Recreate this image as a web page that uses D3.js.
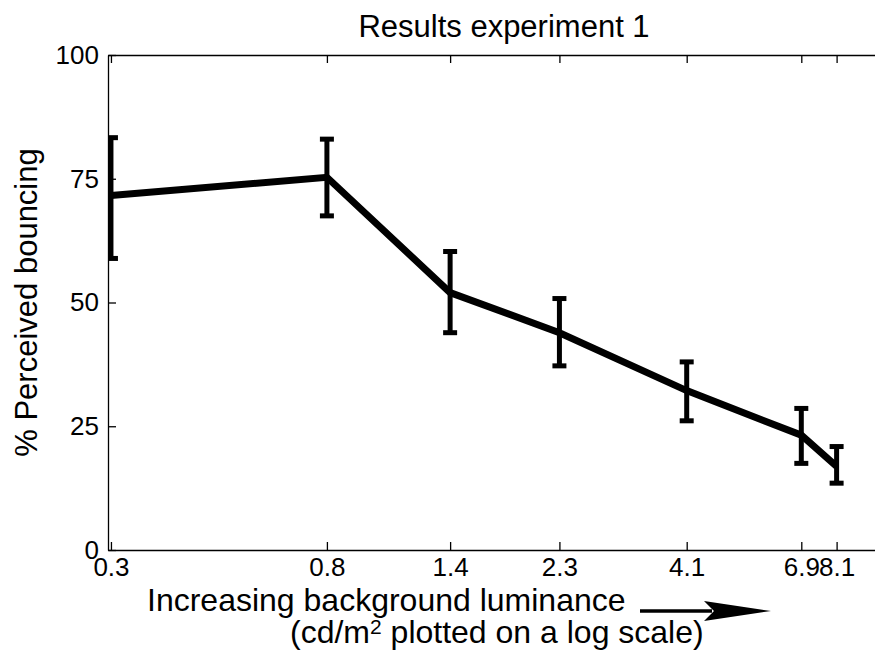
<!DOCTYPE html>
<html>
<head>
    <title>Results experiment 1</title>
    <style>
        html, body {
            margin: 0;
            padding: 0;
            background: #fff;
        }
        svg text {
            font-family: "Liberation Sans", Arial, Helvetica, sans-serif;
            fill: #000;
        }
        .axis path,
        .axis line {
            fill: none;
            stroke: #000;
            stroke-width: 1.3;
        }
    </style>
    <script src="https://d3js.org/d3.v7.min.js"></script>
</head>
<body>
    <svg id="chart"></svg>
</body>
<script>
// data
const luminance = [0.3, 0.8, 1.4, 2.3, 4.1, 6.9, 8.1];
const bouncing = [71.6, 75.3, 52.0, 43.9, 32.2, 23.2, 16.9];
const errUpper = [83.3, 83.0, 60.3, 50.8, 38.0, 28.6, 20.9];
const errLower = [58.9, 67.5, 43.9, 37.2, 26.1, 17.5, 13.5];
const xTickLabels = ["0.3", "0.8", "1.4", "2.3", "4.1", "6.9", "8.1"];
const yTicks = [0, 25, 50, 75, 100];

const width = 875;
const height = 654;
const margin = { top: 55, right: -8, bottom: 104, left: 108 };
const plotW = width - margin.left - margin.right;
const plotH = height - margin.top - margin.bottom;
const tickFont = "26px";

const svgRoot = d3.select("#chart")
    .attr("width", width)
    .attr("height", height);

const svg = svgRoot.append("g")
    .attr("transform", "translate(" + margin.left + "," + margin.top + ")");

const x = d3.scaleLog()
    .domain([0.296, 10])
    .range([0, plotW]);
const y = d3.scaleLinear()
    .domain([0, 100])
    .range([plotH, 0]);

svg.append("clipPath")
    .attr("id", "plot-clip")
    .append("rect")
    .attr("width", plotW)
    .attr("height", plotH);

// axes, ticks pointing inward like matlab
svg.append("g")
    .attr("class", "x axis")
    .attr("transform", "translate(0," + plotH + ")")
    .call(d3.axisBottom(x)
        .tickValues(luminance)
        .tickFormat((d, i) => xTickLabels[i])
        .tickSizeInner(-8)
        .tickSizeOuter(0)
        .tickPadding(8))
    .selectAll("text")
    .style("font-size", tickFont);
svg.append("g")
    .attr("class", "axis")
    .call(d3.axisTop(x)
        .tickValues(luminance)
        .tickFormat("")
        .tickSizeInner(-8)
        .tickSizeOuter(0));
svg.append("g")
    .attr("class", "y axis")
    .call(d3.axisLeft(y)
        .tickValues(yTicks)
        .tickSizeInner(-8)
        .tickSizeOuter(0)
        .tickPadding(9))
    .selectAll("text")
    .style("font-size", tickFont);
svg.append("g")
    .attr("class", "axis")
    .attr("transform", "translate(" + plotW + ",0)")
    .call(d3.axisRight(y)
        .tickValues(yTicks)
        .tickFormat("")
        .tickSizeInner(-8)
        .tickSizeOuter(0));

const points = luminance.map((d, i) => ({
    lum: d,
    val: bouncing[i],
    hi: errUpper[i],
    lo: errLower[i]
}));

const plot = svg.append("g")
    .attr("clip-path", "url(#plot-clip)");

const line = d3.line()
    .x(d => x(d.lum))
    .y(d => y(d.val));

plot.append("path")
    .datum(points)
    .attr("d", line)
    .attr("fill", "none")
    .attr("stroke", "#000")
    .attr("stroke-width", 7)
    .attr("stroke-linejoin", "miter");

// error bars
const capHalf = 7;
const bars = plot.selectAll(".errbar")
    .data(points)
    .enter().append("g")
    .attr("class", "errbar")
    .attr("stroke", "#000")
    .attr("stroke-width", 5);
bars.append("line")
    .attr("x1", d => x(d.lum))
    .attr("x2", d => x(d.lum))
    .attr("y1", d => y(d.hi))
    .attr("y2", d => y(d.lo));
bars.append("line")
    .attr("x1", d => x(d.lum) - capHalf)
    .attr("x2", d => x(d.lum) + capHalf)
    .attr("y1", d => y(d.hi))
    .attr("y2", d => y(d.hi));
bars.append("line")
    .attr("x1", d => x(d.lum) - capHalf)
    .attr("x2", d => x(d.lum) + capHalf)
    .attr("y1", d => y(d.lo))
    .attr("y2", d => y(d.lo));

// title and labels
svgRoot.append("text")
    .attr("x", 504)
    .attr("y", 37)
    .attr("text-anchor", "middle")
    .attr("font-size", "31px")
    .text("Results experiment 1");

svgRoot.append("text")
    .attr("transform", "translate(37," + (margin.top + plotH / 2) + ") rotate(-90)")
    .attr("text-anchor", "middle")
    .attr("font-size", "31px")
    .text("% Perceived bouncing");

svgRoot.append("text")
    .attr("x", 147)
    .attr("y", 611)
    .attr("font-size", "32px")
    .text("Increasing background luminance");

const sub = svgRoot.append("text")
    .attr("x", 290)
    .attr("y", 643)
    .attr("font-size", "32px");
sub.append("tspan").text("(cd/m");
sub.append("tspan")
    .attr("font-size", "21px")
    .attr("dy", -9)
    .text("2");
sub.append("tspan")
    .attr("dy", 9)
    .text(" plotted on a log scale)");

// arrow after the x label
const arrow = svgRoot.append("g");
arrow.append("line")
    .attr("x1", 640)
    .attr("x2", 712)
    .attr("y1", 611)
    .attr("y2", 611)
    .attr("stroke", "#000")
    .attr("stroke-width", 3.5);
arrow.append("path")
    .attr("d", "M704,601 L771,611 L704,621 L714,611 Z")
    .attr("fill", "#000");
</script>
</html>
